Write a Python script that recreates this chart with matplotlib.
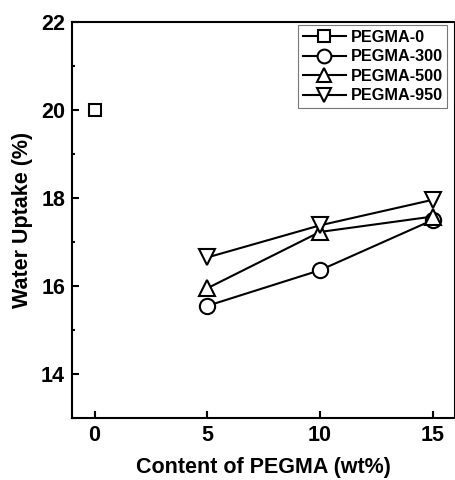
import matplotlib
matplotlib.use("Agg")
import matplotlib.pyplot as plt
from matplotlib.ticker import MultipleLocator

plt.rcParams["font.family"] = ["Liberation Sans", "DejaVu Sans"]
plt.rcParams["font.weight"] = "bold"

# water uptake (%) vs PEGMA content (wt%)
content_0 = [0]
uptake_0 = [20.0]
content = [5, 10, 15]
uptake_300 = [15.55, 16.36, 17.50]
uptake_500 = [15.95, 17.23, 17.58]
uptake_950 = [16.65, 17.38, 17.96]

series = [
    ("PEGMA-0", content_0, uptake_0, "s", 9),
    ("PEGMA-300", content, uptake_300, "o", 11),
    ("PEGMA-500", content, uptake_500, "^", 11),
    ("PEGMA-950", content, uptake_950, "v", 11),
]

fig = plt.figure(figsize=(4.56, 4.80), dpi=100)
ax = fig.add_axes([0.158, 0.129, 0.840, 0.825])

for name, x, y, mk, ms in series:
    ax.plot(x, y, color="black", lw=1.5, marker=mk, ms=ms,
            mfc="white", mec="black", mew=1.5, label=name)

ax.set_xlim(-1, 16)
ax.set_ylim(13, 22)
ax.xaxis.set_major_locator(MultipleLocator(5))
ax.yaxis.set_major_locator(MultipleLocator(2))
ax.yaxis.set_minor_locator(MultipleLocator(1))
ax.tick_params(which="both", direction="in", width=1.5, labelsize=15.5, pad=5)
ax.tick_params(which="major", length=5)
ax.tick_params(which="minor", length=2.5)
for lbl in ax.get_xticklabels() + ax.get_yticklabels():
    lbl.set_fontweight("bold")
for sp in ax.spines.values():
    sp.set_linewidth(1.5)

ax.set_xlabel("Content of PEGMA (wt%)", fontsize=15.5, fontweight="bold", labelpad=8)
ax.set_ylabel("Water Uptake (%)", fontsize=15.5, fontweight="bold", labelpad=6)

leg = ax.legend(loc="upper right", bbox_to_anchor=(0.98, 0.993), borderaxespad=0,
                fontsize=11.7, frameon=True, fancybox=False, markerscale=0.9,
                handlelength=2.6, handletextpad=0.3, labelspacing=0.28,
                borderpad=0.3)
leg.get_frame().set_edgecolor("#555555")
leg.get_frame().set_linewidth(0.8)
for t in leg.get_texts():
    t.set_fontweight("bold")

fig.savefig("out.png", dpi=100)
